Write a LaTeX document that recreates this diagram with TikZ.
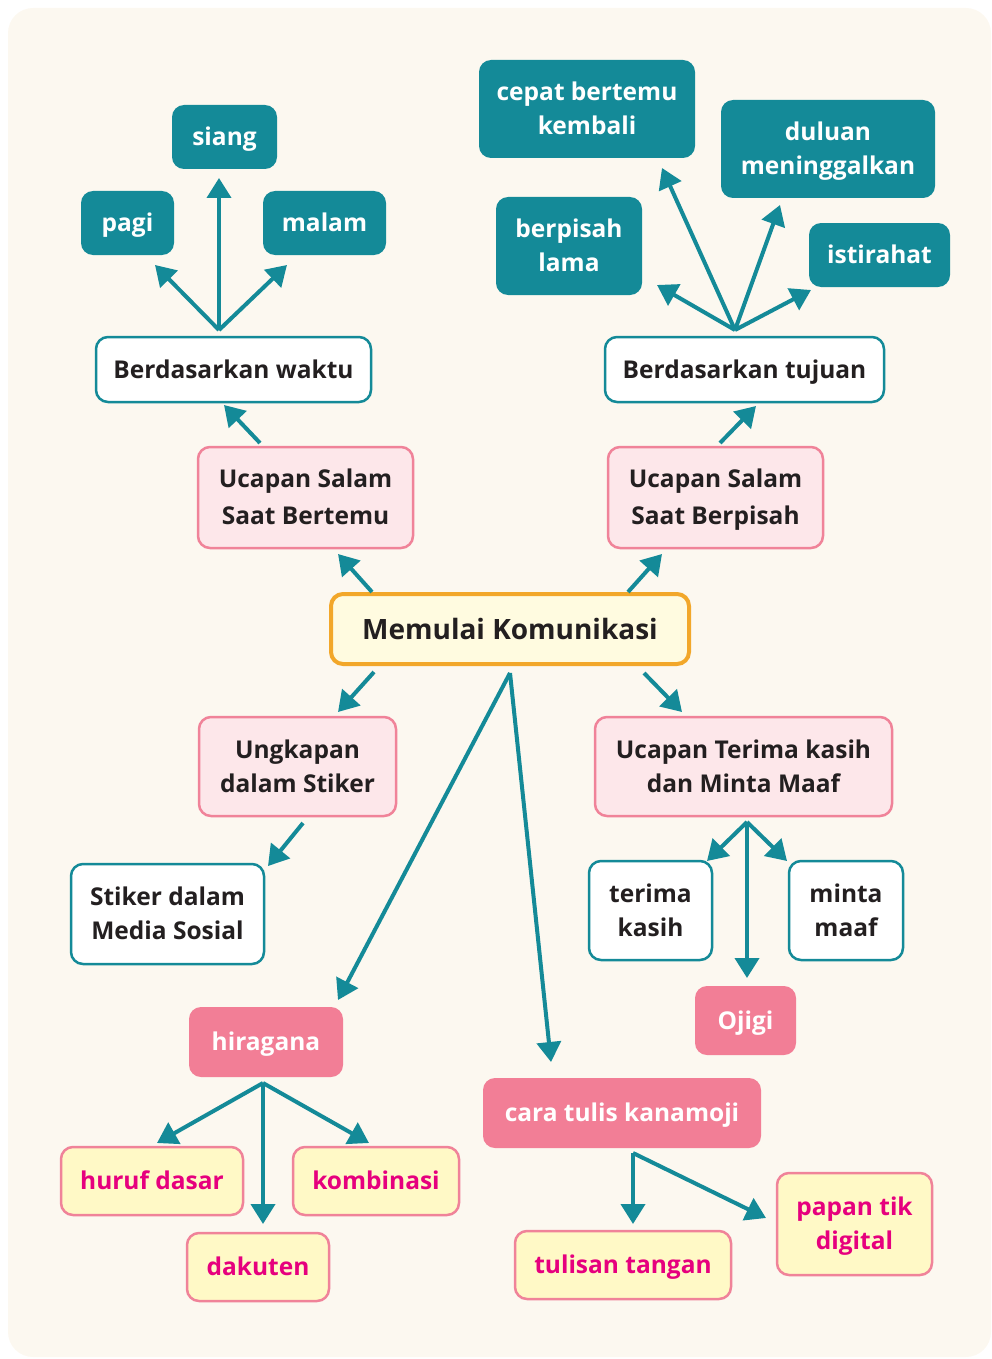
\documentclass[tikz,border=0pt]{standalone}
\usepackage{fontspec}
\setmainfont{Open Sans}
\usetikzlibrary{arrows.meta}
\definecolor{tealc}{HTML}{148A98}
\definecolor{bgc}{HTML}{FCF8F0}
\definecolor{pinkfillc}{HTML}{FDE7EA}
\definecolor{pinkline}{HTML}{F08399}
\definecolor{pinkdark}{HTML}{F27E96}
\definecolor{yellowc}{HTML}{FFF9C6}
\definecolor{magentac}{HTML}{E6007E}
\definecolor{mainfill}{HTML}{FFFBE0}
\definecolor{orangec}{HTML}{F2A72A}
\definecolor{darktext}{HTML}{231F20}
\newcommand\txl[1]{\raisebox{0pt}[17.5pt][0pt]{#1}}
\newcommand\txm[1]{\raisebox{0pt}[20pt][0pt]{#1}}
\tikzset{
  box/.style={rounded corners=12pt, inner sep=0pt, align=center, font=\fontsize{24.5}{34}\selectfont\bfseries},
  tealbox/.style={box, fill=tealc, text=white},
  whitebox/.style={box, fill=white, draw=tealc, line width=2.5pt, text=darktext},
  pinkbox/.style={box, fill=pinkfillc, draw=pinkline, line width=2.5pt, text=darktext},
  pinkfull/.style={box, fill=pinkdark, text=white},
  yellowbox/.style={box, fill=yellowc, draw=pinkline, line width=2.5pt, text=magentac},
  mainbox/.style={box, fill=mainfill, draw=orangec, line width=4pt, text=darktext, font=\fontsize{28}{34}\selectfont\bfseries},
  arr/.style={draw=tealc, line width=4pt, -{Triangle[width=24pt,length=20pt]}},
}
\begin{document}
\begin{tikzpicture}[x=1pt,y=-1pt]
\useasboundingbox (0,0) rectangle (992,1359);
\fill[bgc, rounded corners=25pt] (8,8) rectangle (991,1357);

% top-left cluster
\node[tealbox, minimum width=105pt, minimum height=64pt] (siang) at (224.5,137) {\txl{siang}};
\node[tealbox, minimum width=93pt, minimum height=64pt] (pagi) at (127.5,223) {\txl{pagi}};
\node[tealbox, minimum width=123pt, minimum height=64pt] (malam) at (324.5,223) {\txl{malam}};
\node[whitebox, minimum width=275pt, minimum height=65pt] (waktu) at (233.5,369.5) {\txl{Berdasarkan waktu}};

% top-right cluster
\node[tealbox, minimum width=216pt, minimum height=98pt] (cepat) at (587,109) {\txl{cepat bertemu}\\\txl{kembali}};
\node[tealbox, minimum width=214pt, minimum height=98pt] (duluan) at (828,149) {\txl{duluan}\\\txl{meninggalkan}};
\node[tealbox, minimum width=146pt, minimum height=98pt] (lama) at (569,246) {\txl{berpisah}\\\txl{lama}};
\node[tealbox, minimum width=141pt, minimum height=64pt] (istirahat) at (879.5,255) {\txl{istirahat}};
\node[whitebox, minimum width=279pt, minimum height=65pt] (tujuan) at (744.5,369.5) {\txl{Berdasarkan tujuan}};

% middle
\node[pinkbox, minimum width=215pt, minimum height=101pt] (bertemu) at (305.5,497.5) {\txl{Ucapan Salam}\\[3pt]\txl{Saat Bertemu}};
\node[pinkbox, minimum width=215pt, minimum height=101pt] (berpisah) at (715.5,497.5) {\txl{Ucapan Salam}\\[3pt]\txl{Saat Berpisah}};
\node[mainbox, minimum width=358pt, minimum height=70pt] (main) at (510,629) {\txm{Memulai Komunikasi}};
\node[pinkbox, minimum width=197pt, minimum height=99pt] (ungkapan) at (297.5,766.5) {\txl{Ungkapan}\\\txl{dalam Stiker}};
\node[whitebox, minimum width=193pt, minimum height=100pt] (stiker) at (167.5,914) {\txl{Stiker dalam}\\\txl{Media Sosial}};
\node[pinkbox, minimum width=297pt, minimum height=99pt] (ucapan) at (743.5,766.5) {\txl{Ucapan Terima kasih}\\\txl{dan Minta Maaf}};
\node[whitebox, minimum width=123pt, minimum height=99pt] (terima) at (650.5,910.5) {\txl{terima}\\\txl{kasih}};
\node[whitebox, minimum width=114pt, minimum height=99pt] (minta) at (846,910.5) {\txl{minta}\\\txl{maaf}};
\node[pinkfull, minimum width=101pt, minimum height=69pt] (ojigi) at (745.5,1020.5) {\txl{Ojigi}};

% bottom
\node[pinkfull, minimum width=154pt, minimum height=70pt] (hiragana) at (266,1042) {\txl{hiragana}};
\node[pinkfull, minimum width=278pt, minimum height=70pt] (cara) at (622,1113) {\txl{cara tulis kanamoji}};
\node[yellowbox, minimum width=182pt, minimum height=68pt] (huruf) at (152,1181) {\txl{huruf dasar}};
\node[yellowbox, minimum width=166pt, minimum height=68pt] (kombinasi) at (376,1181) {\txl{kombinasi}};
\node[yellowbox, minimum width=142pt, minimum height=68pt] (dakuten) at (258,1267) {\txl{dakuten}};
\node[yellowbox, minimum width=216pt, minimum height=68pt] (tulisan) at (623,1265) {\txl{tulisan tangan}};
\node[yellowbox, minimum width=155pt, minimum height=102pt] (papan) at (854.5,1224) {\txl{papan tik}\\\txl{digital}};

% connector points
\coordinate (wf) at (219,330);
\coordinate (wpagi) at (155,265);
\coordinate (wsiang) at (219,178);
\coordinate (wmalam) at (287,265);
\coordinate (tf) at (735,330);
\coordinate (tlama) at (657,285);
\coordinate (tcepat) at (662,168);
\coordinate (tduluan) at (780,205);
\coordinate (tist) at (811,290);
\coordinate (b1) at (260,443); \coordinate (b2) at (224,405);
\coordinate (p1) at (720,443); \coordinate (p2) at (756,406);
\coordinate (m1) at (372,592); \coordinate (m2) at (338,554);
\coordinate (m3) at (628,592); \coordinate (m4) at (662,554);
\coordinate (m5) at (374,672); \coordinate (m6) at (338,712);
\coordinate (m7) at (644,673); \coordinate (m8) at (682,712);
\coordinate (mf) at (510,673);
\coordinate (mh) at (338,1000);
\coordinate (mc) at (551,1062);
\coordinate (u1) at (303,823); \coordinate (u2) at (268,866);
\coordinate (uf) at (747,822);
\coordinate (ut) at (707,861); \coordinate (um) at (787,861); \coordinate (uo) at (747,978);
\coordinate (hf) at (263,1083);
\coordinate (hh) at (157,1143); \coordinate (hd) at (263,1224); \coordinate (hk) at (369,1143);
\coordinate (cf) at (633,1153);
\coordinate (ct) at (633,1224); \coordinate (cp) at (766,1218);

\draw[arr] (wf) -- (wpagi);
\draw[arr] (wf) -- (wsiang);
\draw[arr] (wf) -- (wmalam);
\draw[arr] (tf) -- (tlama);
\draw[arr] (tf) -- (tcepat);
\draw[arr] (tf) -- (tduluan);
\draw[arr] (tf) -- (tist);
\draw[arr] (b1) -- (b2);
\draw[arr] (p1) -- (p2);
\draw[arr] (m1) -- (m2);
\draw[arr] (m3) -- (m4);
\draw[arr] (m5) -- (m6);
\draw[arr] (m7) -- (m8);
\draw[arr] (mf) -- (mh);
\draw[arr] (mf) -- (mc);
\draw[arr] (u1) -- (u2);
\draw[arr] (uf) -- (ut);
\draw[arr] (uf) -- (um);
\draw[arr] (uf) -- (uo);
\draw[arr] (hf) -- (hh);
\draw[arr] (hf) -- (hd);
\draw[arr] (hf) -- (hk);
\draw[arr] (cf) -- (ct);
\draw[arr] (cf) -- (cp);
\end{tikzpicture}
\end{document}
